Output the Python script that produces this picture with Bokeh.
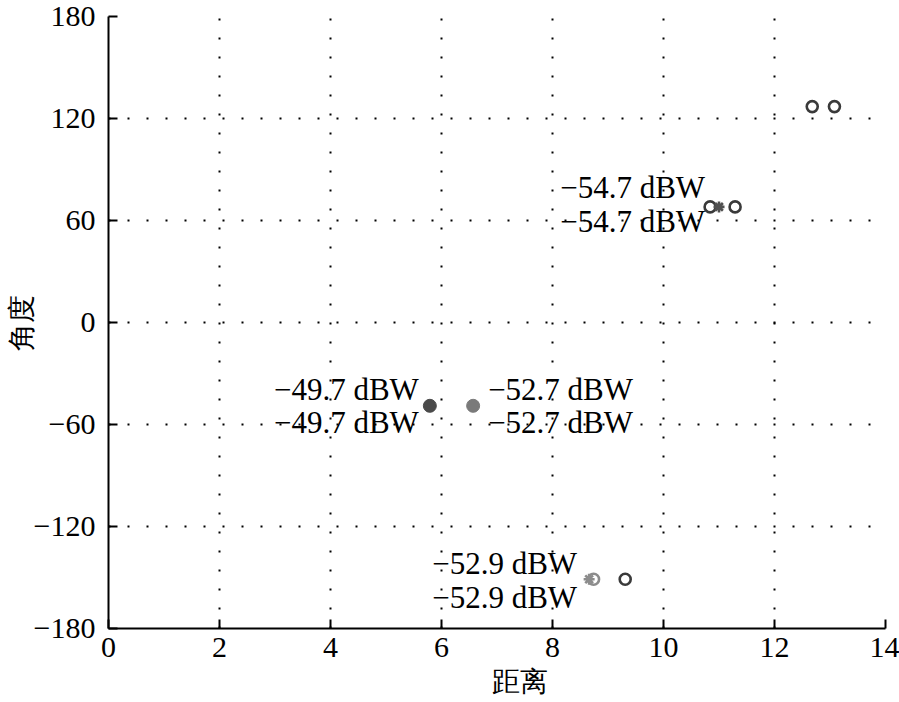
from bokeh.plotting import figure
from bokeh.models import FixedTicker, Range1d, ColumnDataSource
from bokeh.core.properties import value
from bokeh.embed import file_html
from bokeh.resources import INLINE

# ---------------- data ----------------
x_ticks = [0, 2, 4, 6, 8, 10, 12, 14]
y_ticks = [-180, -120, -60, 0, 60, 120, 180]
x_label = "距离"
y_label = "角度"

# open (hollow) circles – dark
open_x = [12.68, 13.08, 10.84, 11.29, 9.31]
open_y = [127, 127, 68, 68, -151]
# asterisk markers
star_x = [11.00, 8.66]
star_y = [68, -151]
# light-gray hollow circle
gray_open_x = [8.74]
gray_open_y = [-151]
# filled circles
filled_dark_x = [5.79]
filled_dark_y = [-49]
filled_gray_x = [6.57]
filled_gray_y = [-49]

# power labels (two identical lines per marker)
power_text = ["\u221254.7 dBW", "\u221249.7 dBW", "\u221252.7 dBW", "\u221252.9 dBW"]
power_x = [10.84, 5.79, 6.57, 8.66]
power_y = [68, -49, -49, -151]

# ---------------- styling ----------------
SERIF = "Liberation Serif"
label_align = ["right", "right", "left", "right"]
label_dx = [-5, -11, 15, -12]
label_dy_top = [-19, -16, -16, -16]
label_dy_bot = [15, 17, 17, 18]

p = figure(width=899, height=702,
           x_range=Range1d(0, 14), y_range=Range1d(-180, 180),
           output_backend="svg", toolbar_location=None,
           min_border_left=108, min_border_right=14,
           min_border_top=16, min_border_bottom=74)
p.outline_line_color = None
p.background_fill_color = "white"
p.border_fill_color = "white"

for ax, ticks in ((p.xaxis, x_ticks), (p.yaxis, y_ticks)):
    ax.ticker = FixedTicker(ticks=ticks)
    ax.major_tick_in = 9
    ax.major_tick_out = 0
    ax.minor_tick_line_color = None
    ax.axis_line_width = 2
    ax.axis_line_color = "black"
    ax.major_tick_line_width = 2
    ax.major_tick_line_color = "black"
    ax.major_label_text_font = SERIF
    ax.major_label_text_font_size = "30px"
    ax.major_label_text_color = "black"
    ax.axis_label_text_font = SERIF
    ax.axis_label_text_font_size = "28px"
    ax.axis_label_text_font_style = "normal"
    ax.axis_label_text_color = "black"

p.xaxis.major_label_standoff = 9
p.yaxis.major_label_standoff = 13
p.yaxis.major_label_overrides = {t: (str(t) if t >= 0 else "\u2212" + str(-t)) for t in y_ticks}

p.xaxis.axis_label = "\u2003\u2002\u2006" + x_label
p.xaxis.axis_label_standoff = 6
p.yaxis.axis_label = y_label
p.yaxis.axis_label_standoff = -6

for g in (p.xgrid, p.ygrid):
    g.grid_line_color = "black"
    g.grid_line_width = 2
    g.grid_line_dash = "2 17"
    g.grid_line_alpha = 1.0

# markers
p.scatter(open_x, open_y, marker="circle", size=11, fill_color=None,
          line_color="#3a3a3a", line_width=2.6)
p.scatter(gray_open_x, gray_open_y, marker="circle", size=11, fill_color=None,
          line_color="#8c8c8c", line_width=2.6)
p.scatter(star_x[:1], star_y[:1], marker="asterisk", size=11,
          line_color="#505050", line_width=2.6)
p.scatter(star_x[1:], star_y[1:], marker="asterisk", size=11,
          line_color="#8c8c8c", line_width=2.6)
p.scatter(filled_dark_x, filled_dark_y, marker="circle", size=13,
          fill_color="#4a4a4a", line_color="#4a4a4a")
p.scatter(filled_gray_x, filled_gray_y, marker="circle", size=13,
          fill_color="#7a7a7a", line_color="#7a7a7a")

src = ColumnDataSource(dict(x=power_x, y=power_y, t=power_text, align=label_align,
                            dx=label_dx, dyt=label_dy_top, dyb=label_dy_bot))
for dy in ("dyt", "dyb"):
    p.text(x="x", y="y", text="t", source=src, text_align="align",
           text_baseline="alphabetic", x_offset="dx", y_offset=dy,
           text_font=value(SERIF), text_font_size="31px", text_color="black")

open("out.html", "w").write(file_html(p, INLINE))
